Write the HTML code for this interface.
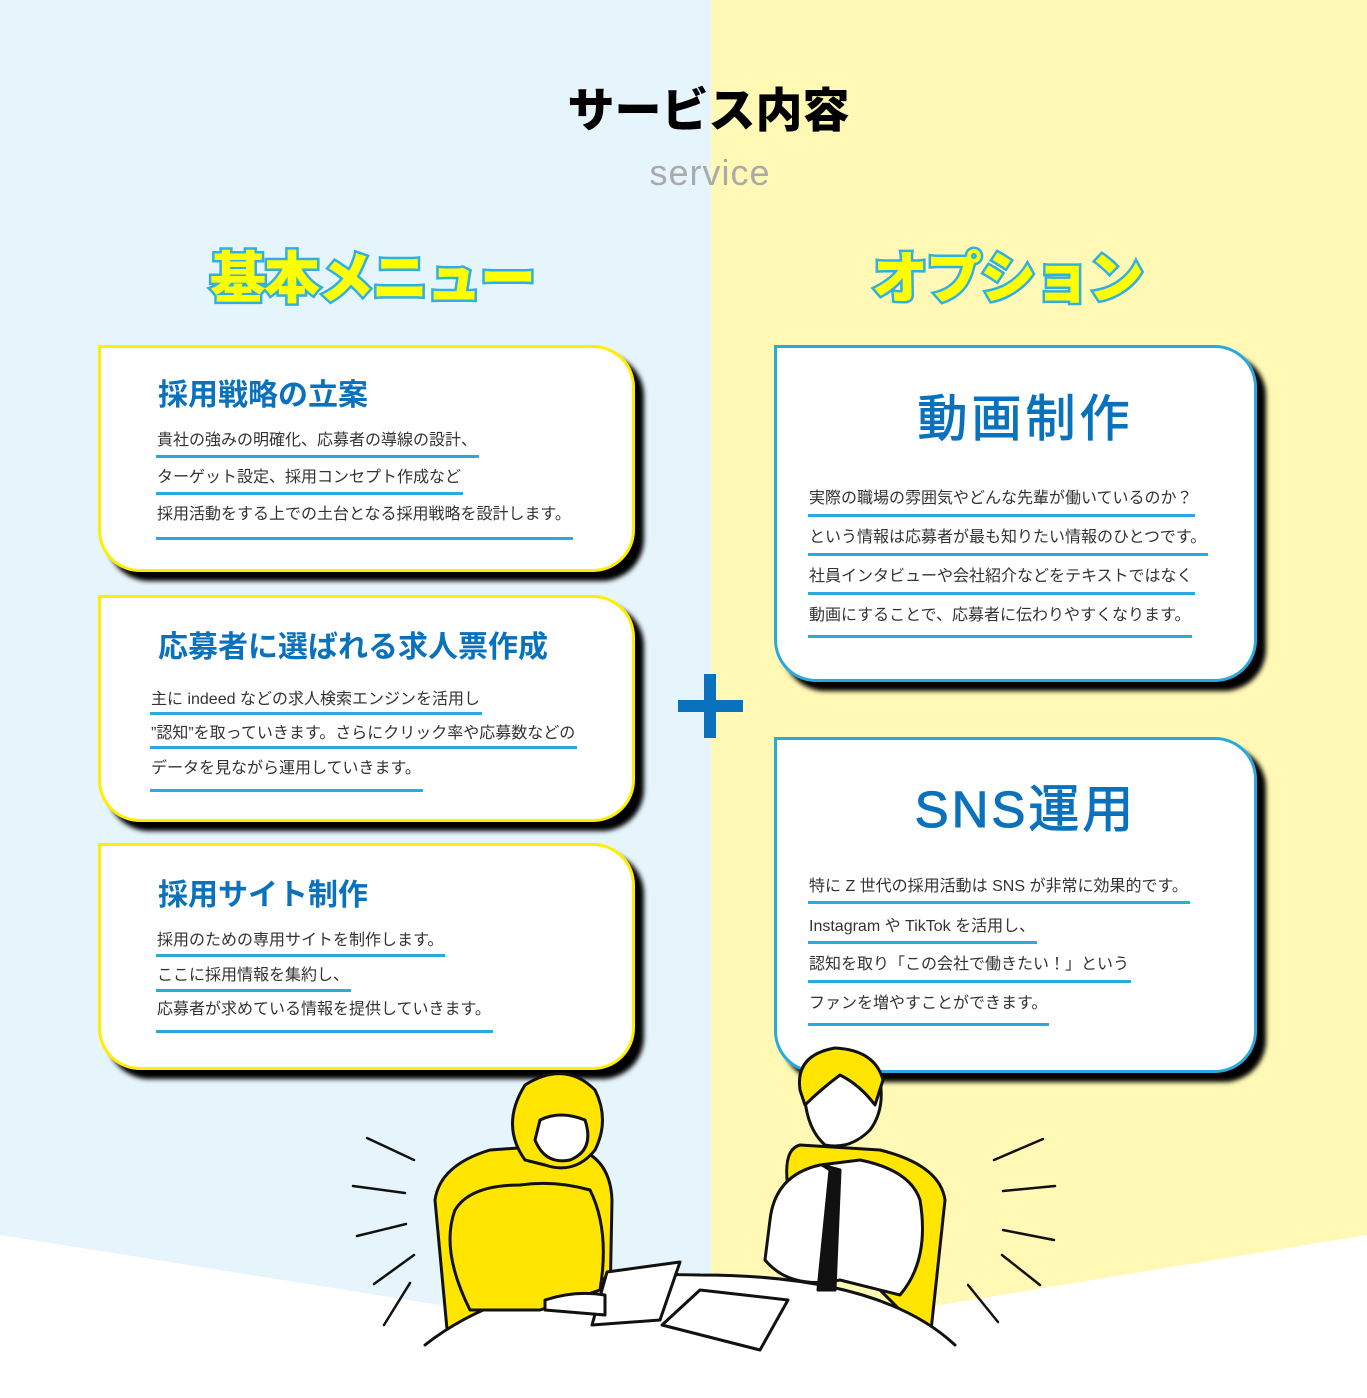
<!DOCTYPE html>
<html><head><meta charset="utf-8"><style>
*{margin:0;padding:0;box-sizing:border-box}
body{width:1367px;height:1398px;position:relative;overflow:hidden;font-family:"Liberation Sans","Noto Sans CJK JP",sans-serif;background:#fff9b5}
.lbg{position:absolute;left:0;top:0;width:711px;height:1398px;background:#e6f4fc}
.card{position:absolute;background:#fff;border-radius:0 42px 42px 42px;box-shadow:9px 9px 5px #000}
.y{border:3px solid #ffee00}
.b{border:3px solid #2aa8e0}
.t{position:absolute;color:#0a72bd;font-weight:bold;white-space:nowrap}
.l{position:absolute;font-size:16px;line-height:22px;color:#333;white-space:nowrap;border-bottom:3px solid #2aa8e0;padding:0 2px 0 1px}
.hd{position:absolute;font-weight:900;font-size:56px;color:#ffff00;-webkit-text-stroke:5px #2fb0e3;paint-order:stroke fill;white-space:nowrap;letter-spacing:-2px}
</style></head><body>
<div class="lbg"></div>
<svg style="position:absolute;left:0;top:0" width="1367" height="1398">
<polygon points="0,1235 440,1305 940,1305 1367,1235 1367,1398 0,1398" fill="#fff"/>
</svg>
<div style="position:absolute;left:0;width:1417px;top:72px;text-align:center;font-size:47px;font-weight:900;color:#000">サービス内容</div>
<div style="position:absolute;left:0;width:1420px;top:152px;text-align:center;font-size:36px;color:#aaa;letter-spacing:1px">service</div>
<div class="hd" style="left:210px;top:234px">基本メニュー</div>
<div class="hd" style="left:872px;top:234px">オプション</div>

<div class="card y" style="left:98px;top:345px;width:537px;height:227px"></div>
<div class="t" style="left:158px;top:370px;font-size:30px">採用戦略の立案</div>
<div class="l" style="left:156px;top:430px;padding-bottom:3px">貴社の強みの明確化、応募者の導線の設計、</div>
<div class="l" style="left:156px;top:467px;padding-bottom:3px">ターゲット設定、採用コンセプト作成など</div>
<div class="l" style="left:156px;top:504px;padding-bottom:11px">採用活動をする上での土台となる採用戦略を設計します。</div>

<div class="card y" style="left:98px;top:595px;width:537px;height:227px"></div>
<div class="t" style="left:158px;top:622px;font-size:30px">応募者に選ばれる求人票作成</div>
<div class="l" style="left:150px;top:689px;padding-bottom:1px">主に indeed などの求人検索エンジンを活用し</div>
<div class="l" style="left:150px;top:723px;padding-bottom:1px">”認知”を取っていきます。さらにクリック率や応募数などの</div>
<div class="l" style="left:150px;top:758px;padding-bottom:9px">データを見ながら運用していきます。</div>

<div class="card y" style="left:98px;top:843px;width:537px;height:227px"></div>
<div class="t" style="left:158px;top:870px;font-size:30px">採用サイト制作</div>
<div class="l" style="left:156px;top:930px;padding-bottom:2px">採用のための専用サイトを制作します。</div>
<div class="l" style="left:156px;top:965px;padding-bottom:2px">ここに採用情報を集約し、</div>
<div class="l" style="left:156px;top:999px;padding-bottom:9px">応募者が求めている情報を提供していきます。</div>

<div class="card b" style="left:774px;top:345px;width:483px;height:337px"></div>
<div class="t" style="left:774px;width:503px;text-align:center;top:379px;font-size:50px;font-weight:normal;letter-spacing:4px;-webkit-text-stroke:1px #0a72bd">動画制作</div>
<div class="l" style="left:808px;top:488px;padding-bottom:4px">実際の職場の雰囲気やどんな先輩が働いているのか？</div>
<div class="l" style="left:808px;top:527px;padding-bottom:4px">という情報は応募者が最も知りたい情報のひとつです。</div>
<div class="l" style="left:808px;top:566px;padding-bottom:4px">社員インタビューや会社紹介などをテキストではなく</div>
<div class="l" style="left:808px;top:605px;padding-bottom:8px">動画にすることで、応募者に伝わりやすくなります。</div>

<div class="card b" style="left:774px;top:737px;width:483px;height:336px"></div>
<div class="t" style="left:774px;width:503px;text-align:center;top:768px;font-size:51px;font-weight:normal;letter-spacing:3px;-webkit-text-stroke:1px #0a72bd">SNS運用</div>
<div class="l" style="left:808px;top:876px;padding-bottom:3px">特に Z 世代の採用活動は SNS が非常に効果的です。</div>
<div class="l" style="left:808px;top:916px;padding-bottom:3px">Instagram や TikTok を活用し、</div>
<div class="l" style="left:808px;top:954px;padding-bottom:4px">認知を取り「この会社で働きたい！」という</div>
<div class="l" style="left:808px;top:993px;padding-bottom:8px">ファンを増やすことができます。</div>

<div style="position:absolute;left:678px;top:700px;width:65px;height:12px;background:#0a72bd"></div>
<div style="position:absolute;left:704px;top:674px;width:12px;height:64px;background:#0a72bd"></div>

<svg style="position:absolute;left:0;top:0" width="1367" height="1398" fill="none" stroke="#111" stroke-width="3" stroke-linecap="round" stroke-linejoin="round">
<g stroke-width="2.5">
<line x1="367" y1="1138" x2="414" y2="1160"/><line x1="353" y1="1186" x2="405" y2="1193"/>
<line x1="357" y1="1236" x2="406" y2="1224"/><line x1="374" y1="1284" x2="414" y2="1255"/><line x1="384" y1="1325" x2="410" y2="1283"/>
<line x1="994" y1="1160" x2="1043" y2="1139"/><line x1="1003" y1="1191" x2="1055" y2="1186"/>
<line x1="1003" y1="1230" x2="1054" y2="1240"/><line x1="1002" y1="1255" x2="1040" y2="1285"/><line x1="968" y1="1285" x2="998" y2="1322"/>
</g>
<path d="M448,1340 L435,1200 Q440,1165 490,1150 L560,1145 Q610,1150 612,1200 L610,1300 Z" fill="#ffe500"/>
<path d="M930,1340 L945,1200 Q940,1165 880,1150 L800,1145 Q780,1150 790,1200 Z" fill="#ffe500"/>
<path d="M425,1345 Q520,1270 700,1275 Q880,1275 955,1345" fill="#fff"/>
<path d="M470,1310 Q440,1250 455,1210 Q470,1185 520,1185 Q555,1180 590,1190 Q610,1230 600,1290 L540,1310 Z" fill="#ffe500"/>
<path d="M525,1160 Q500,1125 525,1085 Q565,1060 595,1090 Q610,1120 595,1150 Q575,1175 545,1165 Z" fill="#ffe500"/>
<path d="M540,1120 Q560,1110 585,1120 Q595,1150 570,1160 Q545,1165 535,1140 Z" fill="#fff"/>
<path d="M607,1272 L680,1262 L660,1320 L592,1325 Z" fill="#fff"/>
<path d="M545,1300 Q575,1290 605,1295 L605,1315 L545,1310 Z" fill="#fff"/>
<path d="M820,1165 Q775,1175 770,1220 L765,1260 Q790,1290 840,1280 L900,1295 Q930,1260 920,1200 Q910,1170 860,1160 Z" fill="#fff"/>
<path d="M822,1165 L830,1170 L818,1290 L835,1290 L840,1170 Z" fill="#111"/>
<path d="M805,1100 Q800,1060 830,1050 Q870,1050 880,1080 Q885,1110 870,1130 Q850,1150 825,1145 Q808,1130 805,1100 Z" fill="#fff"/>
<path d="M800,1090 Q795,1055 835,1048 Q875,1050 883,1080 L875,1105 Q860,1085 840,1075 Q820,1090 805,1105 Z" fill="#ffe500"/>
<path d="M662,1325 L700,1290 L788,1300 L760,1350 Z" fill="#fff"/>
</svg>
</body></html>
